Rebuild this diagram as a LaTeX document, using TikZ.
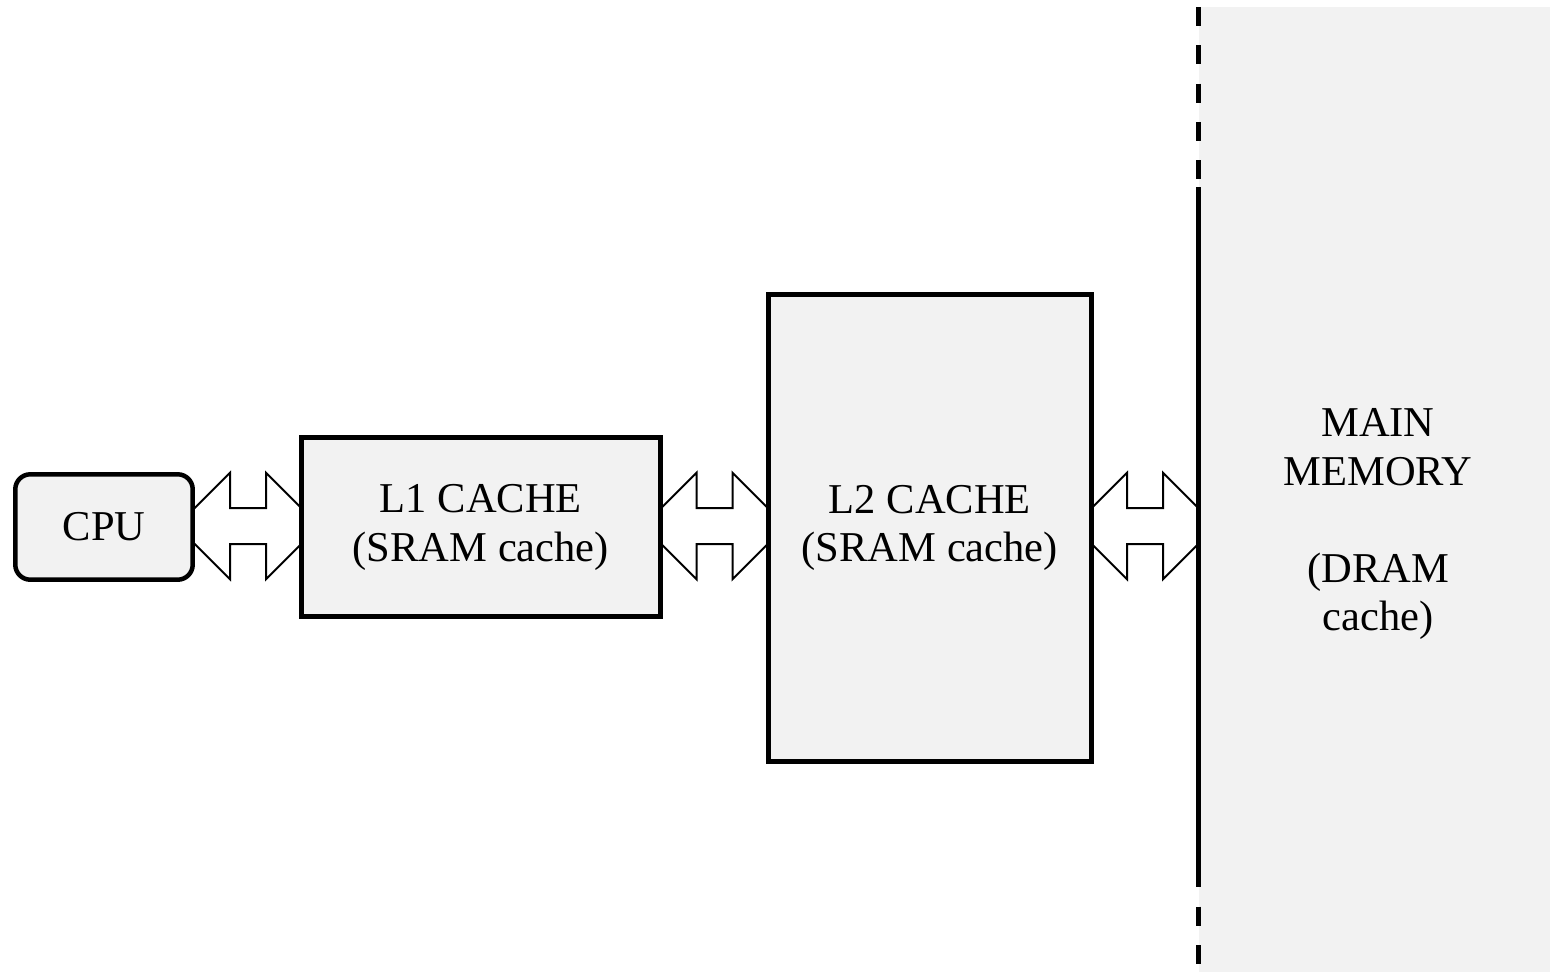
\documentclass[tikz,border=0pt]{standalone}
\usepackage{fontspec}
\setmainfont{Liberation Serif}
\usetikzlibrary{calc}
\definecolor{boxgray}{HTML}{F2F2F2}
\tikzset{
  textfont/.style={font=\fontsize{42.5}{48.5}\selectfont},
  boxstyle/.style={draw=black, fill=boxgray, line width=5pt, inner sep=0pt, align=center, textfont},
  cpustyle/.style={boxstyle, line width=4.5pt, rounded corners=15pt},
  arrowline/.style={draw=black, fill=white, line width=2pt, line join=miter},
  memline/.style={line width=5pt, black},
  dblarrow/.pic={
    \path[arrowline] (-71.3,0) -- (-18,-53.3) -- (-18,-18) -- (18,-18) -- (18,-53.3)
      -- (71.3,0) -- (18,53.3) -- (18,18) -- (-18,18) -- (-18,53.3) -- cycle;
  }
}
\begin{document}
\begin{tikzpicture}[x=1pt,y=-1pt]
\useasboundingbox (0,0) rectangle (1550,972);
% node positions
\coordinate (cpuc) at (104,527);
\coordinate (l1c) at (480.85,527.3);
\coordinate (l2c) at (929.85,528.15);
% arrows (drawn first, boxes cover their tips)
\pic at (248,526) {dblarrow};
\pic at (714.5,526) {dblarrow};
\pic at (1145,526) {dblarrow};
% main memory region
\node[fill=boxgray, inner sep=0pt, minimum width=351pt, minimum height=965pt, anchor=north west] (mem) at (1199,7) {};
\node[textfont, align=center] (memtext) at (1378,524) {MAIN\\MEMORY\\[48.5pt](DRAM\\cache)};
% boxes
\node[cpustyle, minimum width=177.4pt, minimum height=105.4pt] (cpu) at (cpuc) {CPU};
\node[boxstyle, minimum width=358.7pt, minimum height=179pt] (l1) at (l1c) {L1 CACHE\\(SRAM cache)};
\node[boxstyle, minimum width=323.3pt, minimum height=466.7pt] (l2) at (l2c) {L2 CACHE\\(SRAM cache)};
% memory boundary line
\coordinate (mt) at (1198.8,7);
\coordinate (mt2) at (1198.8,180);
\coordinate (ms1) at (1198.8,187);
\coordinate (ms2) at (1198.8,887);
\coordinate (mb1) at (1198.8,906.7);
\coordinate (mb2) at (1198.8,965);
\draw[memline, dash pattern=on 19pt off 19.3pt] (mt) -- (mt2);
\draw[memline] (ms1) -- (ms2);
\draw[memline, dash pattern=on 19pt off 19.3pt] (mb1) -- (mb2);
\end{tikzpicture}
\end{document}
